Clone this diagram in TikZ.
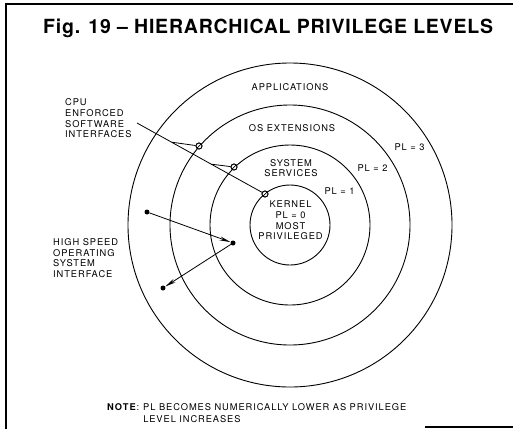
\documentclass[tikz,border=0pt]{standalone}
\usepackage{fontspec}
\setmainfont{TeX Gyre Heros}
\newfontfamily\titlefont[LetterSpace=4]{TeX Gyre Heros}
\newfontfamily\lblfont[LetterSpace=10]{TeX Gyre Heros}
\usetikzlibrary{arrows.meta,calc}
\tikzset{
  ring/.style={draw,circle,line width=0.9pt,inner sep=0pt},
  lbl/.style={font=\lblfont\fontsize{9.3}{10.6}\selectfont,inner sep=0pt,align=center},
  lbll/.style={lbl,align=left,anchor=west},
  marker/.style={draw,circle,line width=0.9pt,minimum size=6pt,inner sep=0pt,fill=white,
    path picture={\draw[line width=0.7pt] (path picture bounding box.south west) -- (path picture bounding box.north east);}},
  dot/.style={circle,fill=black,minimum size=5pt,inner sep=0pt},
  wire/.style={line width=0.8pt},
  harrow/.style={wire,-{Stealth[length=11pt,width=4pt]}}
}
\begin{document}
\begin{tikzpicture}[x=1pt,y=-1pt]
\useasboundingbox (0,0) rectangle (513,429);
% frame
\draw[line width=1.6pt] (6,429) -- (6,4) -- (513,4);
\draw[line width=1.6pt] (425,427) -- (513,427);
% title
\node[anchor=base west,inner sep=0pt,font=\titlefont\bfseries\fontsize{19.5}{22}\selectfont] (title) at (43,33) {Fig. 19 {\char"2013} HIERARCHICAL PRIVILEGE LEVELS};
% rings
\coordinate (c) at (290,225);
\node[ring,minimum size=324pt] (r3) at (c) {};
\node[ring,minimum size=240pt] (r2) at (c) {};
\node[ring,minimum size=160pt] (r1) at (c) {};
\node[ring,minimum size=80pt] (r0) at (c) {};
% ring labels
\node[lbl] (app) at (290,87) {APPLICATIONS};
\node[lbl] (osx) at (292,128) {OS EXTENSIONS};
\node[lbl] (sys) at (291,168) {SYSTEM\\SERVICES};
\node[lbl] (ker) at (290.5,220.5) {KERNEL\\PL = 0\\MOST\\PRIVILEGED};
\node[lbl] (pl3) at (409.5,147) {PL = 3};
\node[lbl] (pl2) at (372.5,168) {PL = 2};
\node[lbl] (pl1) at (339.5,191) {PL = 1};
% CPU enforced interfaces
\node[lbll] (cpu) at (65,118.5) {CPU\\ENFORCED\\SOFTWARE\\INTERFACES};
\coordinate (cpuS) at (137,123);
\node[marker] (m0) at (265,194) {};
\node[marker] (m1) at (234,167) {};
\node[marker] (m2) at (199,146) {};
\draw[wire] (cpuS) -- (m0);
\coordinate (b2) at ($(cpuS)!0.27!(m0)$);
\coordinate (b1) at ($(cpuS)!0.58!(m0)$);
\draw[wire] (b2) -- (m2);
\draw[wire] (b1) -- (m1);
% redraw markers on top
\node[marker] at (m0) {};
\node[marker] at (m1) {};
\node[marker] at (m2) {};
% high speed interface
\node[lbll] (hs) at (53,258) {HIGH SPEED\\OPERATING\\SYSTEM\\INTERFACE};
\node[dot] (d1) at (147,212) {};
\node[dot] (d2) at (233,243) {};
\node[dot] (d3) at (163,288) {};
\draw[harrow] (d1) -- (d2);
\draw[harrow] (d2) -- (d3);
% note
\node[anchor=west,inner sep=0pt,font=\lblfont\fontsize{9.3}{11.5}\selectfont] (note) at (107,414)
  {\begin{tabular}{@{}l@{\hspace{4pt}}l@{}}\textbf{NOTE}: & PL BECOMES NUMERICALLY LOWER AS PRIVILEGE\\ & LEVEL INCREASES\end{tabular}};
\end{tikzpicture}
\end{document}
